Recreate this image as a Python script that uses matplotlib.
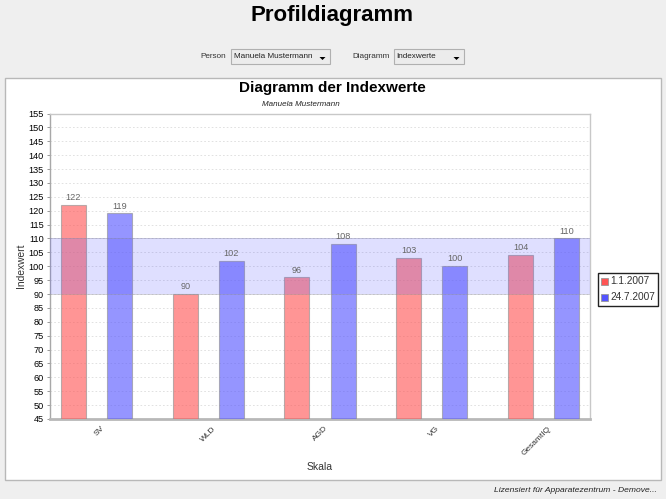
import matplotlib
matplotlib.use("Agg")
import matplotlib.pyplot as plt
from matplotlib.patches import Rectangle, Polygon
from matplotlib.transforms import ScaledTranslation
import numpy as np

categories = ["SV", "WLD", "AGD", "VG", "GesamtIQ"]
series_a = [122, 90, 96, 103, 104]
series_b = [119, 102, 108, 100, 110]
legend_labels = ["1.1.2007", "24.7.2007"]
band = (90, 110)
yticks = list(range(45, 160, 5))

W, H = 666, 499
plt.rcParams['font.family'] = ['Liberation Sans', 'DejaVu Sans']
fig = plt.figure(figsize=(W/100, H/100), dpi=100, facecolor='#efefef')

def fx(x): return x/W
def fy(y): return 1-y/H
def ftext(x, y, s, **kw):
    kw.setdefault('va', 'center')
    fig.text(fx(x), fy(y), s, **kw)
def frect(x0, y0, x1, y1, **kw):
    fig.add_artist(Rectangle((fx(x0), fy(y1)), fx(x1-x0), (y1-y0)/H,
                             transform=fig.transFigure, **kw))

# page title and selectors
ftext(332.5, 15, "Profildiagramm", ha='center', fontsize=16, fontweight='bold', color='black')
ui_size = 5.9
ftext(226, 57, "Person", ha='right', fontsize=ui_size, color='#333333')
ftext(352, 57, "Diagramm", ha='left', fontsize=ui_size, color='#333333')
for x0, x1, label in [(230.5, 329.5, "Manuela Mustermann"), (393.5, 463.5, "Indexwerte")]:
    frect(x0, 49, x1, 64, facecolor='#ececec', edgecolor='#b0b0b0', lw=0.8)
    ftext(x0+3, 57, label, ha='left', fontsize=ui_size, color='#222222')
    tx = x1-7
    fig.add_artist(Polygon([[fx(tx-3), fy(57)], [fx(tx+3), fy(57)], [fx(tx), fy(60)]],
                           closed=True, transform=fig.transFigure, facecolor='black', edgecolor='none'))

# white chart panel
frect(4.5, 77.5, 660.5, 479.5, facecolor='white', edgecolor='#b8b8b8', lw=1)
ftext(332.5, 88, "Diagramm der Indexwerte", ha='center', fontsize=11, fontweight='bold', color='black')
ftext(300.5, 105, "Manuela Mustermann", ha='center', fontsize=5.8, style='italic', color='#222222')
ftext(657, 491, "Lizensiert für Apparatezentrum - Demove...", ha='right', fontsize=6.1, style='italic', color='#222222')

# plot area
ax = fig.add_axes([fx(50), fy(419), fx(540), 305.5/H], facecolor='white', zorder=2)
x = np.arange(len(categories))
off, bw = 0.206, 0.224
ax.bar(x-off, series_a, bw, color='#ff5555', alpha=0.62, edgecolor='#909090', lw=0.8, zorder=3)
ax.bar(x+off, series_b, bw, color='#5555ff', alpha=0.62, edgecolor='#909090', lw=0.8, zorder=3)
ax.axhspan(*band, facecolor='#5555ff', alpha=0.19, edgecolor='none', zorder=4)
for yv in band:
    ax.axhline(yv, color='#9090a0', alpha=0.4, lw=0.7, zorder=4)

for xs, vals in ((x-off, series_a), (x+off, series_b)):
    for xi, v in zip(xs, vals):
        ax.annotate(str(v), (xi, v), xytext=(0, 2), textcoords='offset points',
                    ha='center', va='bottom', fontsize=6.6, color='#666666', zorder=5)

ax.set_xlim(-0.416, 4.416)
ax.set_ylim(45, 155)
ax.set_yticks(yticks)
ax.set_yticklabels([str(t) for t in yticks], fontsize=6.6, color='black')
ax.tick_params(axis='y', length=2.5, width=0.6, color='#888888', pad=2)
ax.set_xticks(x)
ax.set_xticklabels(categories, rotation=45, ha='right', va='top', fontsize=6, color='#333333')
ax.tick_params(axis='x', length=0, pad=4.3)
shift = ScaledTranslation(6.5/72, 0, fig.dpi_scale_trans)
for lab in ax.get_xticklabels():
    lab.set_transform(lab.get_transform() + shift)
ax.grid(axis='y', color='#dcdcdc', lw=0.6, ls=(0, (2, 2.5)), zorder=1)
ax.set_axisbelow(True)
for s in ax.spines.values():
    s.set_color('#c8c8c8')
    s.set_linewidth(1)
ax.spines['bottom'].set_linewidth(2)
ax.spines['bottom'].set_color('#b8b8b8')
ax.spines['left'].set_color('#a8a8a8')

ftext(21, 266, "Indexwert", ha='center', rotation=90, fontsize=7.4, color='#333333')
ftext(320, 467, "Skala", ha='center', fontsize=7.5, color='#333333')

# legend
frect(598, 272.5, 658, 305.5, facecolor='white', edgecolor='#222222', lw=1, zorder=6)
for yc, col, lab in [(281, '#ff5555', legend_labels[0]), (297, '#5555ff', legend_labels[1])]:
    frect(601, yc-3.5, 607.5, yc+3.5, facecolor=col, edgecolor='#999999', lw=0.6, zorder=7)
    fig.text(fx(610.5), fy(yc), lab, ha='left', va='center', fontsize=7.3, color='#333333', zorder=7)

fig.savefig("out.png", dpi=100, facecolor=fig.get_facecolor())
